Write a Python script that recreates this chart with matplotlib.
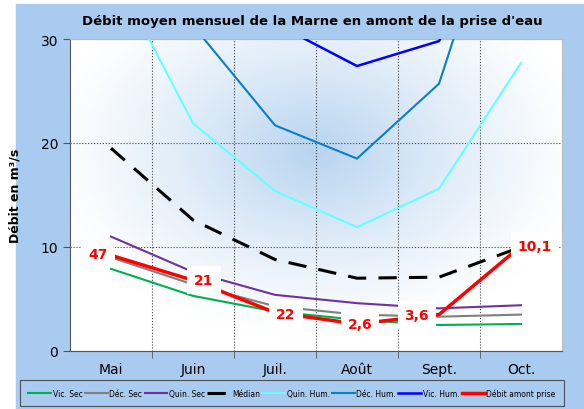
import matplotlib.pyplot as plt
import matplotlib.patches as patches
import numpy as np

months = ['Mai', 'Juin', 'Juil.', 'Août', 'Sept.', 'Oct.']

vic_sec = [7.9, 5.3, 3.8, 3.0, 2.5, 2.6]
dec_sec = [9.0, 6.4, 4.3, 3.5, 3.3, 3.5]
quin_sec = [11.0, 7.6, 5.4, 4.6, 4.1, 4.4]
median = [19.5, 12.6, 8.8, 7.0, 7.1, 10.0]
quin_hum = [37.0, 21.9, 15.4, 11.9, 15.6, 27.7]
dec_hum = [45.0, 31.3, 21.7, 18.5, 25.7, 50.0]
vic_hum = [60.0, 45.0, 31.5, 27.4, 29.8, 45.0]
debit = [9.2, 6.8, 3.7, 2.6, 3.5, 10.1]
debit_labels = ['47', '21', '22', '2,6', '3,6', '10,1']

BG = '#a9cbef'

fig = plt.figure(figsize=(5.84, 4.10), dpi=100)
fig.patches.append(patches.Rectangle((16 / 584, 0), 1, 1 - 5 / 410,
                                     transform=fig.transFigure, color=BG, zorder=-10))

ax = fig.add_axes([70 / 584, 1 - 352 / 410, (562 - 70) / 584, (352 - 40) / 410])
ax.set_facecolor('white')

# radial-ish gradient in the plot area
yy, xx = np.mgrid[0:1:200j, 0:1:300j]
d = np.sqrt(((xx - 0.5) / 0.55) ** 2 + ((yy - 0.64) / 0.6) ** 2)
t = np.clip(1 - d, 0, 1) ** 1.2
c0 = np.array([1.0, 1.0, 1.0])
c1 = np.array([0.72, 0.83, 0.94])
img = c0[None, None, :] * (1 - t[..., None]) + c1[None, None, :] * t[..., None]
ax.imshow(img, extent=[0, 1, 0, 1], origin='lower', transform=ax.transAxes,
          aspect='auto', zorder=0)

x = np.arange(len(months))
ax.plot(x, vic_sec, color='#00b050', lw=1.5, label='Vic. Sec', zorder=3)
ax.plot(x, dec_sec, color='#808080', lw=1.5, label='Déc. Sec', zorder=3)
ax.plot(x, quin_sec, color='#7030a0', lw=1.5, label='Quin. Sec', zorder=3)
ax.plot(x, median, color='black', lw=2.2, dashes=(6, 4), label='Médian', zorder=3)
ax.plot(x, quin_hum, color='#66ffff', lw=1.5, label='Quin. Hum.', zorder=3)
ax.plot(x, dec_hum, color='#0a7fc4', lw=1.5, label='Déc. Hum.', zorder=3)
ax.plot(x, vic_hum, color='#0000ff', lw=1.8, label='Vic. Hum.', zorder=3)
ax.plot(x, debit, color='#ff0000', lw=2.5, label='Débit amont prise', zorder=4)

offsets = [(-9, 1), (8, 0), (8, -1), (2, 0), (-16, 0), (10, 0)]
for xi, yi, lab, off in zip(x, debit, debit_labels, offsets):
    ax.annotate(lab, (xi, yi), xytext=off, textcoords='offset points',
                ha='center', va='center', color='red', fontsize=10, fontweight='bold',
                bbox=dict(boxstyle='square,pad=0.5', fc='white', ec='none'), zorder=5)

ax.set_xlim(-0.5, 5.5)
ax.set_ylim(0, 30)
ax.set_xticks(x, months, fontsize=10)
ax.set_xticks(np.arange(0.5, 5.5, 1), minor=True)
ax.tick_params(axis='x', which='major', length=0, pad=8)
ax.tick_params(axis='x', which='minor', length=5, direction='out', color='#555555')
ax.set_yticks([0, 10, 20, 30])
ax.tick_params(axis='y', labelsize=10, length=5, color='#555555')
ax.grid(True, which='minor', axis='x', color='#444444', ls=':', lw=0.8, zorder=1)
ax.grid(True, which='major', axis='y', color='#444444', ls=':', lw=0.8, zorder=1)
for s in ['left', 'bottom']:
    ax.spines[s].set_color('#555555')
for s in ['top', 'right']:
    ax.spines[s].set_color('#bbbbbb')

ax.set_ylabel('Débit en m³/s', fontsize=9, fontweight='bold', labelpad=14)
fig.text(0.5 + 20 / 584, 1 - 22 / 410, "Débit moyen mensuel de la Marne en amont de la prise d'eau",
         ha='center', va='center', fontsize=9.5, fontweight='bold')

leg = fig.legend(loc='lower left', bbox_to_anchor=(20 / 584, 3 / 410), ncol=8,
                 fontsize=5.5, handlelength=3.0, handletextpad=0.2, columnspacing=0.3,
                 frameon=True, fancybox=False, borderpad=1.1, borderaxespad=0)
leg.get_frame().set_facecolor(BG)
leg.get_frame().set_edgecolor('#333333')
leg.get_frame().set_linewidth(0.8)

fig.savefig('out.png', dpi=100)
